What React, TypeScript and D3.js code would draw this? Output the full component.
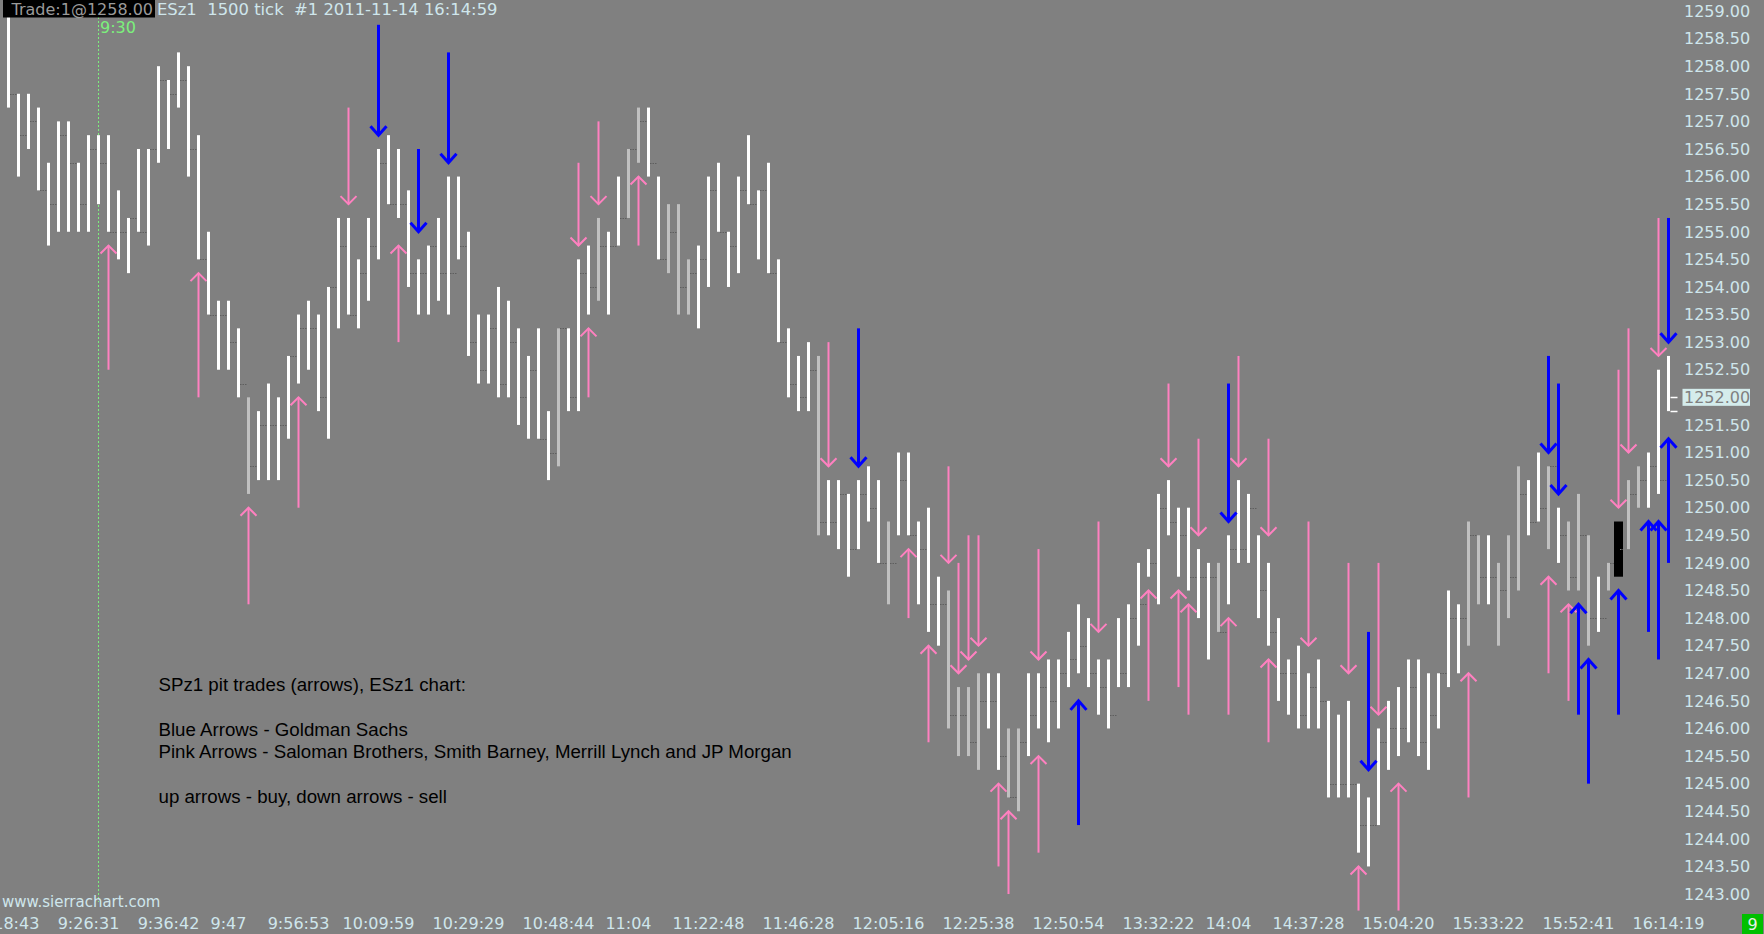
import React from "react";
import * as d3 from "d3";

// ---- Data ----
const highs = [
  1259.0, 1257.5, 1257.5, 1257.25, 1256.25, 1257.0, 1257.0, 1256.25, 1256.75, 1256.75,
  1256.75, 1255.75, 1255.25, 1256.5, 1256.5, 1258.0, 1257.75, 1258.25, 1258.0, 1256.75,
  1255.0, 1253.75, 1253.75, 1253.25, 1252.0, 1251.75, 1252.25, 1252.0, 1252.75, 1253.5,
  1253.75, 1253.5, 1254.0, 1255.25, 1255.25, 1254.5, 1255.25, 1256.5, 1256.75, 1256.5,
  1255.75, 1254.5, 1254.75, 1255.25, 1256.0, 1256.0, 1255.0, 1253.5, 1253.5, 1254.0,
  1253.75, 1253.25, 1252.75, 1253.25, 1251.75, 1253.25, 1253.25, 1254.5, 1254.75, 1255.25,
  1255.0, 1256.0, 1256.5, 1257.25, 1257.25, 1256.0, 1255.5, 1255.5, 1254.5, 1254.75,
  1256.0, 1256.25, 1255.0, 1256.0, 1256.75, 1255.75, 1256.25, 1254.5, 1253.25, 1252.75,
  1253.0, 1252.75, 1250.5, 1250.5, 1250.25, 1250.5, 1250.75, 1250.5, 1249.75, 1251.0,
  1251.0, 1249.75, 1250.0, 1248.75, 1248.5, 1246.75, 1246.75, 1247.0, 1247.0, 1247.0,
  1246.0, 1246.0, 1247.0, 1247.0, 1247.25, 1247.25, 1247.75, 1248.25, 1248.0, 1247.25,
  1247.25, 1248.0, 1248.25, 1249.0, 1249.25, 1250.25, 1250.5, 1250.0, 1250.0, 1249.25,
  1249.0, 1249.0, 1249.5, 1250.5, 1250.25, 1249.5, 1249.0, 1248.0, 1247.25, 1247.5,
  1247.0, 1247.25, 1246.5, 1246.25, 1246.5, 1245.0, 1244.75, 1246.0, 1246.5, 1246.75,
  1247.25, 1247.25, 1247.0, 1247.0, 1248.5, 1248.25, 1249.75, 1249.5, 1249.5, 1249.0,
  1249.5, 1250.75, 1250.5, 1251.0, 1250.75, 1250.0, 1249.75, 1250.25, 1249.5, 1248.75,
  1249.0, 1249.75, 1250.5, 1250.75, 1251.0, 1252.5, 1252.75,
];
const lows = [
  1257.25, 1256.0, 1256.5, 1255.75, 1254.75, 1255.0, 1255.0, 1255.0, 1255.0, 1255.5,
  1255.0, 1254.5, 1254.25, 1255.0, 1254.75, 1256.25, 1256.5, 1257.25, 1256.0, 1254.5,
  1253.5, 1252.5, 1252.5, 1252.0, 1250.25, 1250.5, 1250.5, 1250.5, 1251.25, 1252.25,
  1252.5, 1251.75, 1251.25, 1253.25, 1253.5, 1253.25, 1253.75, 1254.5, 1255.5, 1255.25,
  1254.0, 1253.5, 1253.5, 1253.75, 1253.5, 1254.5, 1252.75, 1252.25, 1252.25, 1252.0,
  1252.0, 1251.5, 1251.25, 1251.25, 1250.5, 1250.75, 1251.75, 1251.75, 1253.5, 1253.75,
  1253.5, 1254.75, 1255.25, 1256.25, 1256.0, 1254.5, 1254.25, 1253.5, 1253.5, 1253.25,
  1254.0, 1255.0, 1254.0, 1254.25, 1255.5, 1254.5, 1254.25, 1253.0, 1252.0, 1251.75,
  1251.75, 1249.5, 1249.5, 1249.25, 1248.75, 1249.25, 1249.75, 1249.0, 1248.25, 1249.5,
  1249.5, 1248.25, 1247.75, 1247.5, 1246.0, 1245.5, 1245.5, 1245.25, 1246.0, 1245.25,
  1244.75, 1244.5, 1245.5, 1246.0, 1245.75, 1246.0, 1246.75, 1247.0, 1246.75, 1246.25,
  1246.0, 1246.75, 1246.75, 1247.5, 1248.75, 1248.25, 1249.5, 1248.75, 1248.5, 1248.0,
  1247.25, 1247.75, 1248.25, 1249.0, 1249.0, 1248.0, 1247.5, 1246.5, 1246.25, 1246.0,
  1246.0, 1246.0, 1244.75, 1244.75, 1244.75, 1243.75, 1243.5, 1244.25, 1245.25, 1245.5,
  1245.75, 1245.5, 1245.25, 1246.0, 1246.75, 1247.0, 1247.5, 1248.25, 1248.25, 1247.5,
  1248.0, 1248.5, 1249.5, 1249.75, 1249.25, 1249.0, 1248.5, 1248.5, 1247.5, 1247.75,
  1248.5, 1248.75, 1249.25, 1250.0, 1250.0, 1250.25, 1251.75,
];
const closes = [
  1257.5, 1256.75, 1257.0, 1255.75, 1255.5, 1256.75, 1256.25, 1255.5, 1256.5, 1256.25,
  1255.0, 1255.0, 1255.25, 1255.0, 1256.5, 1257.75, 1257.5, 1257.75, 1256.5, 1254.5,
  1253.5, 1253.5, 1253.0, 1252.25, 1250.75, 1251.5, 1251.5, 1251.5, 1252.75, 1253.25,
  1253.25, 1252.0, 1254.0, 1254.75, 1253.5, 1254.25, 1254.75, 1256.25, 1255.5, 1255.5,
  1254.25, 1254.25, 1254.75, 1254.25, 1254.25, 1254.75, 1253.0, 1252.5, 1253.25, 1252.25,
  1253.0, 1252.0, 1252.5, 1251.25, 1251.0, 1253.25, 1252.0, 1254.25, 1254.0, 1254.75,
  1254.75, 1255.25, 1256.5, 1257.0, 1256.25, 1254.5, 1255.0, 1254.0, 1254.25, 1254.5,
  1255.75, 1255.0, 1254.75, 1255.75, 1255.5, 1255.75, 1254.25, 1253.0, 1252.25, 1252.0,
  1252.5, 1249.75, 1249.75, 1250.25, 1249.25, 1250.25, 1250.0, 1249.0, 1249.0, 1250.5,
  1249.5, 1249.25, 1248.25, 1248.25, 1246.25, 1246.25, 1245.75, 1246.5, 1246.5, 1245.5,
  1244.75, 1245.75, 1246.25, 1246.75, 1246.5, 1247.0, 1247.25, 1247.5, 1247.0, 1246.75,
  1246.25, 1247.0, 1248.0, 1248.25, 1249.0, 1250.0, 1249.75, 1249.5, 1248.75, 1248.75,
  1248.75, 1247.75, 1249.25, 1249.25, 1250.0, 1248.5, 1247.75, 1247.0, 1247.0, 1246.25,
  1246.75, 1246.5, 1245.0, 1245.0, 1245.0, 1244.25, 1244.25, 1245.75, 1246.0, 1246.0,
  1246.75, 1245.75, 1246.25, 1247.0, 1248.0, 1248.0, 1249.5, 1248.75, 1248.75, 1248.5,
  1248.75, 1250.25, 1249.75, 1250.0, 1250.75, 1249.5, 1248.75, 1249.5, 1248.0, 1248.0,
  1249.0, 1249.25, 1250.25, 1250.5, 1250.75, 1250.5, 1252.0,
];
const grayBars = [24, 55, 59, 62, 63, 66, 67, 68, 81, 88, 94, 95, 96, 97, 100, 101, 121,
  146, 147, 149, 150, 151, 154, 156, 157, 158, 160, 162, 163];
const blackBars = [161];
const lastBarTicks = [1252.0, 1251.75];

// arrows: [bar, tip price, tail price]
const pinkUp = [
  [10, 1254.75, 1252.5], [19, 1254.25, 1252.0], [24, 1250.0, 1248.25], [29, 1252.0, 1250.0],
  [39, 1254.75, 1253.0], [58, 1253.25, 1252.0], [63, 1256.0, 1254.75], [90, 1249.25, 1248.0],
  [92, 1247.5, 1245.75], [99, 1245.0, 1243.5], [100, 1244.5, 1243.0], [103, 1245.5, 1243.75],
  [114, 1248.5, 1246.5], [117, 1248.5, 1246.75], [118, 1248.25, 1246.25], [122, 1248.0, 1246.25],
  [126, 1247.25, 1245.75], [135, 1243.5, 1242.7], [139, 1245.0, 1242.7], [146, 1247.0, 1244.75],
  [154, 1248.75, 1247.0], [156, 1248.25, 1246.5],
];
const pinkDown = [
  [34, 1255.5, 1257.25], [57, 1254.75, 1256.25], [59, 1255.5, 1257.0], [82, 1250.75, 1253.0],
  [94, 1249.0, 1250.75], [95, 1247.0, 1249.0], [96, 1247.25, 1249.5], [97, 1247.5, 1249.5],
  [103, 1247.25, 1249.25], [109, 1247.75, 1249.75], [116, 1250.75, 1252.25], [119, 1249.5, 1251.25],
  [123, 1250.75, 1252.75], [126, 1249.5, 1251.25], [130, 1247.5, 1249.75], [134, 1247.0, 1249.0],
  [137, 1246.25, 1249.0], [161, 1250.0, 1252.5], [162, 1251.0, 1253.25], [165, 1252.75, 1255.25],
];
const blueDown = [
  [37, 1256.75, 1258.75], [41, 1255.0, 1256.5], [44, 1256.25, 1258.25], [85, 1250.75, 1253.25],
  [122, 1249.75, 1252.25], [136, 1245.25, 1247.75], [154, 1251.0, 1252.75], [155, 1250.25, 1252.25],
  [166, 1253.0, 1255.25],
];
const blueUp = [
  [107, 1246.5, 1244.25], [157, 1248.25, 1246.25], [158, 1247.25, 1245.0], [161, 1248.5, 1246.25],
  [164, 1249.75, 1247.75], [165, 1249.75, 1247.25], [166, 1251.25, 1249.0],
];

const timeLabels = ["9:18:43", "9:26:31", "9:36:42", "9:47", "9:56:53", "10:09:59", "10:29:29",
  "10:48:44", "11:04", "11:22:48", "11:46:28", "12:05:16", "12:25:38", "12:50:54", "13:32:22",
  "14:04", "14:37:28", "15:04:20", "15:33:22", "15:52:41", "16:14:19"];
const timeLabelBars = [0, 8, 16, 22, 29, 37, 46, 55, 62, 70, 79, 88, 97, 106, 115, 122, 130, 139, 148, 157, 166];

const priceTicks = d3.range(1243, 1259.001, 0.5);
const lastPrice = 1252.0;
const sessionStartBar = 9;
const noteLines = [
  "SPz1 pit trades (arrows), ESz1 chart:",
  "",
  "Blue Arrows - Goldman Sachs",
  "Pink Arrows - Saloman Brothers, Smith Barney, Merrill Lynch and JP Morgan",
  "",
  "up arrows - buy, down arrows - sell",
];

const W = 1764;
const H = 934;
const PINK = "#ff80c0";
const BLUE = "#0000ff";
const AXIS_TXT = "#cfe6ec";
const FONT = "'DejaVu Sans', Verdana, sans-serif";

export default function App() {
  const x = d3.scaleLinear().domain([0, 166]).range([8.5, 1668.5]);
  const y = d3.scaleLinear().domain([1259, 1243]).range([11, 894.04]);
  const graySet = new Set(grayBars);
  const blackSet = new Set(blackBars);

  const arrow = (a: number[], up: boolean, color: string, key: string, blue: boolean) => {
    const [bar, tip, tail] = a;
    const cx = x(bar);
    const ty = y(tip);
    const ly = y(tail);
    const hw = 8;
    const hh = blue ? 9 : 8;
    const s = up ? 1 : -1;
    return (
      <g key={key} stroke={color} strokeWidth={blue ? 3 : 2} fill="none">
        <line x1={cx} x2={cx} y1={ly} y2={ty} />
        <polyline points={`${cx - hw},${ty + s * hh} ${cx},${ty} ${cx + hw},${ty + s * hh}`} />
      </g>
    );
  };

  return (
    <div style={{ position: "fixed", left: 0, top: 0, width: W, height: H }}>
      <svg width={W} height={H} style={{ display: "block" }}>
        <rect x={0} y={0} width={W} height={H} fill="#808080" />

        {/* session start line */}
        <line x1={x(sessionStartBar)} x2={x(sessionStartBar)} y1={17} y2={902}
          stroke="#7cf07c" strokeWidth={1} strokeDasharray="2 2" />

        {/* bars */}
        {highs.map((h, i) => {
          const cx = x(i);
          const isBlack = blackSet.has(i);
          const w = isBlack ? 9 : 3;
          const fill = isBlack ? "#000000" : graySet.has(i) ? "#c0c0c0" : "#ffffff";
          return (
            <g key={"b" + i}>
              <rect x={cx - w / 2} y={y(h)} width={w} height={y(lows[i]) - y(h)} fill={fill} />
              {i < highs.length - 1 && (
                <line x1={cx + 1.5} x2={cx + 9} y1={Math.round(y(closes[i])) + 0.5}
                  y2={Math.round(y(closes[i])) + 0.5}
                  stroke={isBlack ? "#808080" : "#5e5e5e"} strokeWidth={1} strokeDasharray="1.5 1" />
              )}
            </g>
          );
        })}
        {lastBarTicks.map((p, i) => (
          <line key={"lt" + i} x1={x(166) + 2} x2={x(166) + 9} y1={Math.round(y(p)) + 0.5}
            y2={Math.round(y(p)) + 0.5} stroke="#ffffff" strokeWidth={1.5} />
        ))}

        {/* arrows */}
        {pinkUp.map((a, i) => arrow(a, true, PINK, "pu" + i, false))}
        {pinkDown.map((a, i) => arrow(a, false, PINK, "pd" + i, false))}
        {blueDown.map((a, i) => arrow(a, false, BLUE, "bd" + i, true))}
        {blueUp.map((a, i) => arrow(a, true, BLUE, "bu" + i, true))}

        {/* notes */}
        <g fontFamily="'Liberation Sans', Arial, sans-serif" fontSize={18.7} fill="#000000">
          {noteLines.map((t, i) => (
            <text key={"n" + i} x={158.5} y={691 + i * 22.45}>{t}</text>
          ))}
        </g>

        {/* header */}
        <rect x={3} y={0} width={152} height={17.5} fill="#000000" />
        <text x={11.5} y={14.5} fontFamily={FONT} fontSize={16} fill="#9a9a9a">Trade:1@1258.00</text>
        <text x={157} y={14.5} fontFamily={FONT} fontSize={16.4} fill={AXIS_TXT}
          style={{ whiteSpace: "pre" }}>
          {"ESz1  1500 tick  #1 2011-11-14 16:14:59"}
        </text>
        <text x={100} y={32.5} fontFamily={FONT} fontSize={16} fill="#7cf07c">9:30</text>

        {/* price axis */}
        <g fontFamily={FONT} fontSize={16}>
          {priceTicks.map((p) => (
            <text key={"p" + p} x={1684} y={y(p)} dy="0.36em" fill={AXIS_TXT}>{p.toFixed(2)}</text>
          ))}
          <rect x={1682.5} y={y(lastPrice) - 8.5} width={67.5} height={17} fill="#d4ecec" />
          <text x={1684} y={y(lastPrice)} dy="0.36em" fill="#808080">{lastPrice.toFixed(2)}</text>
        </g>

        {/* time axis */}
        <text x={2} y={906.5} fontFamily={FONT} fontSize={15} fill={AXIS_TXT}>www.sierrachart.com</text>
        <g fontFamily={FONT} fontSize={16} fill={AXIS_TXT} textAnchor="middle">
          {timeLabels.map((t, i) => (
            <text key={"t" + i} x={x(timeLabelBars[i])} y={929}>{t}</text>
          ))}
        </g>
        <rect x={1742} y={914} width={21} height={20} fill="#00c000" />
        <text x={1752.5} y={930} textAnchor="middle" fontFamily={FONT} fontSize={16} fill="#e8f0e8">9</text>
      </svg>
    </div>
  );
}
